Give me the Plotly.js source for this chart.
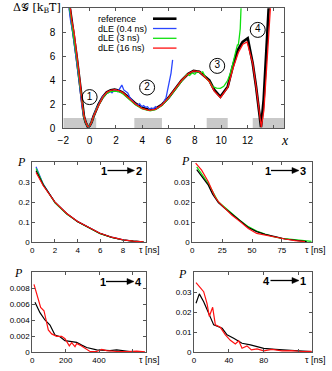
<!DOCTYPE html>
<html>
<head>
<meta charset="utf-8">
<script src="https://cdn.plot.ly/plotly-3.0.1.min.js"></script>
<style>html,body{margin:0;padding:0;background:#fff;}#chart{width:332px;height:371px;}</style>
</head>
<body>
<div id="chart"></div>
<script>
// ---------- DATA: free-energy profiles (top panel) ----------
const refX = [-1.6,-1.4,-1.24,-0.99,-0.78,-0.58,-0.43,-0.3,-0.15,0,0.15,0.3,0.5,0.68,1.0,1.3,1.6,1.9,2.2,2.5,3.0,3.5,4.0,4.5,5.0,5.5,6.0,6.5,7.0,7.5,7.9,8.34,8.7,9.1,9.48,9.94,10.5,10.87,11.25,11.63,12.02,12.4,12.65,12.85,13.03,13.23,13.36,13.49,13.59,13.65];
const refY = [10.8,9,8,6,4,2,1,0.5,0.15,0.2,0.5,1.0,1.6,2.0,2.6,3.0,3.17,3.22,3.15,3.0,2.55,2.05,1.72,1.55,1.62,1.98,2.55,3.25,4.0,4.55,4.78,4.72,4.4,4.0,3.2,2.63,3.47,5.1,6.5,7.2,7.5,5.4,3.5,1.5,0.1,2.4,5.1,7.9,10,10.8];

const dle04X = [-1.65,-1.45,-1.28,-1.02,-0.8,-0.6,-0.45,-0.3,-0.15,0,0.15,0.3,0.5,0.7,1.0,1.2,1.4,1.55,1.7,1.85,2.0,2.15,2.3,2.45,2.6,2.75,2.9,3.05,3.2,3.35,3.5,3.65,3.8,3.95,4.1,4.25,4.4,4.55,4.7,4.85,5.0,5.15,5.3,5.45,5.6,5.7,5.8,5.93,6.05,6.19,6.31];
const dle04Y = [10.8,9,8,6,4,2,1,0.5,0.15,0.2,0.5,1.0,1.6,2.0,2.65,2.85,2.95,3.1,2.95,3.15,3.2,3.05,3.3,3.6,3.2,3.1,2.95,2.6,2.4,2.15,2.05,1.9,2.05,1.8,1.9,1.75,1.8,1.6,1.7,1.6,1.8,1.65,1.75,1.95,2.0,2.36,2.5,3.2,3.6,4.6,5.7];

const dle3X = [-1.62,-1.42,-1.26,-1.0,-0.79,-0.59,-0.44,-0.3,-0.15,0,0.15,0.3,0.5,0.7,1.0,1.3,1.6,1.9,2.2,2.5,3.0,3.5,4.0,4.6,5.0,5.5,6.0,6.5,7.0,7.4,7.6,7.8,8.0,8.2,8.4,8.6,8.85,9.1,9.35,9.65,9.94,10.2,10.5,10.7,10.87,11.0,11.13,11.25,11.3,11.38,11.45,11.51,11.55];
const dle3Y = [10.8,9,8,6,4,2,1,0.5,0.15,0.2,0.5,0.95,1.55,1.95,2.55,2.9,3.05,3.1,3.05,2.9,2.45,1.95,1.62,1.45,1.55,1.9,2.5,3.2,3.95,4.5,4.4,4.62,4.5,4.75,4.6,4.7,4.17,3.9,3.47,3.35,3.33,3.5,4.0,4.6,5.3,5.8,6.5,7.0,6.9,7.6,8.3,10,10.8];

const dle16X = [-1.55,-1.36,-1.18,-0.94,-0.74,-0.56,-0.42,-0.29,-0.14,0,0.15,0.3,0.5,0.7,1.0,1.3,1.6,1.9,2.2,2.5,3.0,3.5,4.0,4.5,5.0,5.5,6.0,6.5,7.0,7.5,7.9,8.34,8.7,9.1,9.48,9.95,10.5,10.9,11.3,11.65,11.97,12.4,12.65,12.87,13.05,13.25,13.45,13.6,13.74,13.8];
const dle16Y = [10.8,9,8,6,4,2,1,0.5,0.15,0.18,0.5,1.0,1.55,1.95,2.6,3.0,3.17,3.22,3.15,3.0,2.5,2.0,1.65,1.5,1.58,1.95,2.55,3.25,4.0,4.55,4.78,4.72,4.35,3.9,3.1,2.55,3.4,5.0,6.3,7.0,7.2,5.4,3.5,1.5,0.1,1.5,4.5,7.5,10,10.8];

// metastable state regions (grey bars) and state labels
const stateLo = [-2, 3.4, 8.9, 12.4];
const stateHi = [0.5, 5.5, 10.5, 14.8];
const stateBarTop = 0.85;
const labelX = [0, 4.37, 9.7, 12.78];
const labelY = [2.6, 3.4, 5.2, 8.2];
const labelText = ['1', '2', '3', '4'];

const topXTicks = [-2, 0, 2, 4, 6, 8, 10, 12, 14];
const topXTickText = ['\u22122', '0', '2', '4', '6', '8', '10', '12', ''];
const topYTicks = [0, 2, 4, 6, 8];

// ---------- DATA: waiting-time distributions ----------
// 1 -> 2
const p12X = [0.33, 0.97, 2.0, 3.03, 4.0, 5.09, 5.97, 7.0, 8.03, 8.9, 9.8];
const p12Ref = [0.357, 0.285, 0.2, 0.143, 0.102, 0.068, 0.043, 0.023, 0.01, 0.004, 0.001];
const p12D04 = [0.377, 0.29, 0.198, 0.142, 0.103, 0.068, 0.044, 0.024, 0.011, 0.004, 0.001];
const p12D3 = [0.368, 0.288, 0.196, 0.14, 0.101, 0.066, 0.042, 0.023, 0.01, 0.004, 0.001];
const p12D16 = [0.348, 0.282, 0.2, 0.143, 0.103, 0.069, 0.044, 0.024, 0.011, 0.004, 0.001];

// 1 -> 3
const p13RefX = [3.7, 13.4, 17, 21.8, 27.4, 33, 40, 46.9, 53.9, 60.9, 69.3, 77.6, 88.8, 95.8];
const p13Ref = [0.0363, 0.0285, 0.024, 0.0197, 0.0168, 0.014, 0.0105, 0.0073, 0.0052, 0.0038, 0.0027, 0.0015, 0.0007, 0.0002];
const p13D3X = [3.7, 13.4, 21.8, 33, 40, 46.9, 53.9, 60.9, 67, 74.9, 81, 88.8, 100];
const p13D3 = [0.0377, 0.0293, 0.0202, 0.0143, 0.0108, 0.0077, 0.0055, 0.004, 0.0028, 0.0018, 0.0014, 0.001, 0.0003];
const p13D16X = [2.8, 7.8, 13.4, 16.2, 19, 21.8, 27.4, 33, 40, 46.9, 53.9, 60.9, 69.3, 77.6, 86, 94.4];
const p13D16 = [0.0395, 0.036, 0.0302, 0.0268, 0.0227, 0.0202, 0.0168, 0.0135, 0.0102, 0.0068, 0.0043, 0.0035, 0.0022, 0.0015, 0.0007, 0.0002];

// 1 -> 4
const p14RefX = [16, 46, 76, 106, 136, 166, 196, 226, 266, 296, 326, 386, 466, 506, 586, 666];
const p14Ref = [0.00625, 0.00495, 0.00404, 0.0034, 0.00216, 0.00195, 0.00145, 0.00133, 0.00125, 0.0009, 0.0006, 0.0003, 0.0002, 0.0003, 0.0001, 0.00005];
const p14D16X = [10, 30, 50, 70, 86, 96, 116, 146, 176, 196, 222, 236, 256, 266, 286, 306, 346, 386, 416, 446, 506, 566, 626, 676];
const p14D16 = [0.0085, 0.0072, 0.0056, 0.0052, 0.0036, 0.0028, 0.0023, 0.002, 0.002, 0.0017, 0.0008, 0.0012, 0.0007, 0.0011, 0.0009, 0.0006, 0.0001, 0.0001, 0.00035, 0.0002, 0.0001, 0.0001, 0.00015, 0.00005];

// 4 -> 1
const p41RefX = [2.3, 6.1, 11.1, 18.7, 22.6, 32.3, 37.9, 45.5, 55.1, 64.7, 72.3, 80, 93.3, 108.6, 120, 135];
const p41Ref = [0.0245, 0.0292, 0.0253, 0.017, 0.0137, 0.012, 0.0087, 0.007, 0.0045, 0.0037, 0.0028, 0.002, 0.0015, 0.0012, 0.0007, 0.0003];
const p41D16X = [2.3, 7.3, 11.1, 14.9, 17.6, 21.4, 24.5, 30.2, 36, 41.7, 47.4, 51.3, 55.1, 60.8, 65.8, 72.3, 80, 89.5, 101, 112.5, 124, 135];
const p41D16 = [0.0348, 0.0325, 0.0303, 0.0245, 0.018, 0.0225, 0.0137, 0.0125, 0.0087, 0.006, 0.0042, 0.0058, 0.002, 0.0032, 0.0012, 0.0017, 0.0007, 0.0015, 0.0007, 0.0008, 0.0004, 0.0005];

// ---------- STYLE ----------
const W = 332, H = 371;
const px = v => v / W;            // pixel -> paper x
const py = v => 1 - v / H;        // pixel -> paper y
const C = {ref: '#000000', d04: '#2a46ff', d3: '#10e010', d16: '#ff1010'};
const FONT = 'Liberation Sans, Arial, sans-serif';

function line(x, y, color, width, xa, ya) {
  return {x: x, y: y, type: 'scatter', mode: 'lines', xaxis: xa, yaxis: ya,
          line: {color: color, width: width}, hoverinfo: 'skip', showlegend: false};
}

const traces = [
  line(refX, refY, C.ref, 2.6, 'x', 'y'),
  line(dle04X, dle04Y, C.d04, 1.3, 'x', 'y'),
  line(dle3X, dle3Y, C.d3, 1.3, 'x', 'y'),
  line(dle16X, dle16Y, C.d16, 1.3, 'x', 'y'),
  {x: labelX, y: labelY, text: labelText, type: 'scatter', mode: 'markers+text', xaxis: 'x', yaxis: 'y',
   marker: {symbol: 'circle-open', size: 15, color: '#000', line: {width: 1, color: '#000'}},
   textposition: 'middle center', textfont: {family: FONT, size: 10, color: '#000'},
   hoverinfo: 'skip', showlegend: false},

  line(p12X, p12D04, C.d04, 1.2, 'x2', 'y2'),
  line(p12X, p12D3, C.d3, 1.2, 'x2', 'y2'),
  line(p12X, p12Ref, C.ref, 1.2, 'x2', 'y2'),
  line(p12X, p12D16, C.d16, 1.2, 'x2', 'y2'),

  line(p13D3X, p13D3, C.d3, 1.2, 'x3', 'y3'),
  line(p13RefX, p13Ref, C.ref, 1.2, 'x3', 'y3'),
  line(p13D16X, p13D16, C.d16, 1.2, 'x3', 'y3'),

  line(p14RefX, p14Ref, C.ref, 1.2, 'x4', 'y4'),
  line(p14D16X, p14D16, C.d16, 1.2, 'x4', 'y4'),

  line(p41RefX, p41Ref, C.ref, 1.2, 'x5', 'y5'),
  line(p41D16X, p41D16, C.d16, 1.2, 'x5', 'y5')
];

function ax(domain, range, tickvals, ticktext, anchor, fs) {
  return {domain: domain, range: range, tickvals: tickvals, ticktext: ticktext, anchor: anchor,
          showline: true, mirror: 'ticks', linecolor: '#555', linewidth: 1,
          ticks: 'inside', ticklen: 3, tickcolor: '#555', tickwidth: 1,
          showgrid: false, zeroline: false, fixedrange: true,
          tickfont: {family: FONT, size: fs, color: '#000'}};
}

const dTop = [px(63.3), px(284.3)];
const dL = [px(32.3), px(145.7)];
const dR2 = [px(192.3), px(311.7)];
const dR4 = [px(194), px(311.7)];
const yTop = [py(128.3), py(8.3)];
const yMid = [py(242), py(162.2)];
const yBot = [py(352.3), py(272.3)];

const layout = {
  width: W, height: H, autosize: false,
  margin: {l: 0, r: 0, t: 0, b: 0},
  paper_bgcolor: '#fff', plot_bgcolor: '#fff',
  showlegend: false,
  font: {family: FONT, color: '#000'},
  xaxis: Object.assign(ax(dTop, [-2, 14.8], topXTicks, topXTickText, 'y', 10), {ticklabelstandoff: 3}),
  yaxis: Object.assign(ax(yTop, [0, 10], topYTicks, topYTicks.map(String), 'x', 10), {ticklabelstandoff: 5}),
  xaxis2: ax(dL, [0, 10], [0, 2, 4, 6, 8, 10], ['0', '2', '4', '6', '8', ''], 'y2', 8),
  yaxis2: ax(yMid, [0, 0.4], [0, 0.1, 0.2, 0.3], ['0', '0.1', '0.2', '0.3'], 'x2', 8),
  xaxis3: ax(dR2, [0, 100], [0, 25, 50, 75, 100], ['0', '25', '50', '75', ''], 'y3', 8),
  yaxis3: ax(yMid, [0, 0.04], [0, 0.01, 0.02, 0.03], ['0', '0.01', '0.02', '0.03'], 'x3', 8),
  xaxis4: ax(dL, [0, 680], [0, 200, 400, 600], ['0', '200', '400', ''], 'y4', 8),
  yaxis4: ax(yBot, [0, 0.01], [0, 0.002, 0.004, 0.006, 0.008], ['0', '0.002', '0.004', '0.006', '0.008'], 'x4', 8),
  xaxis5: ax(dR4, [0, 135], [0, 40, 80, 120], ['0', '40', '80', ''], 'y5', 8),
  yaxis5: ax(yBot, [0, 0.04], [0, 0.01, 0.02, 0.03], ['0', '0.01', '0.02', '0.03'], 'x5', 8),
  shapes: [],
  annotations: []
};

// grey state bars
for (let i = 0; i < stateLo.length; i++) {
  layout.shapes.push({type: 'rect', xref: 'x', yref: 'y', x0: stateLo[i], x1: stateHi[i], y0: 0, y1: stateBarTop,
                      fillcolor: '#c9c9c9', line: {width: 0}, layer: 'below'});
}

// manual gnuplot-style key (text left, sample line right)
const keyNames = ['reference', 'dLE (0.4 ns)', 'dLE (3 ns)', 'dLE (16 ns)'];
const keyCols = [C.ref, C.d04, C.d3, C.d16];
const keyW = [2.6, 1.3, 1.3, 1.3];
const keyRowY = [18.7, 28.5, 38.3, 48.1];
keyNames.forEach((n, i) => {
  layout.annotations.push({xref: 'paper', yref: 'paper', x: px(96), y: py(keyRowY[i]), xanchor: 'left', yanchor: 'middle',
    text: n, showarrow: false, font: {family: FONT, size: 9, color: '#000'}});
  layout.shapes.push({type: 'line', xref: 'paper', yref: 'paper', x0: px(153), x1: px(176.5), y0: py(keyRowY[i]), y1: py(keyRowY[i]),
    line: {color: keyCols[i], width: keyW[i]}});
});

// axis labels
function ann(x, y, text, opts) {
  layout.annotations.push(Object.assign({xref: 'paper', yref: 'paper', x: px(x), y: py(y), text: text, showarrow: false,
    xanchor: 'center', yanchor: 'middle', font: {family: FONT, size: 10, color: '#000'}}, opts || {}));
}
ann(37, 8, '\u0394\uD835\uDCA2 [k<sub>B</sub>T]', {font: {family: 'DejaVu Serif, Liberation Serif, serif', size: 11, color: '#000'}});
ann(285, 140.5, '<i>x</i>', {font: {family: 'Liberation Serif, serif', size: 14, color: '#000'}});

const serifP = {family: 'Liberation Serif, serif', size: 12, color: '#000'};
ann(21.5, 161.5, '<i>P</i>', {font: serifP});
ann(185, 160.5, '<i>P</i>', {font: serifP});
ann(18.5, 272.5, '<i>P</i>', {font: serifP});
ann(182, 273.5, '<i>P</i>', {font: serifP});

const tauFont = {family: FONT, size: 9, color: '#000'};
ann(137, 250, '\u03C4 [ns]', {xanchor: 'left', font: tauFont});
ann(303, 250, '\u03C4 [ns]', {xanchor: 'left', font: tauFont});
ann(137, 360, '\u03C4 [ns]', {xanchor: 'left', font: tauFont});
ann(303, 360, '\u03C4 [ns]', {xanchor: 'left', font: tauFont});

// transition labels  a ──► b  (arrow = line shape + filled triangle path)
const bold = {family: FONT, size: 11, color: '#000', weight: 'bold'};
function trans(a, b, xa, xb, y, x0, x1) {
  ann(xa, y, '<b>' + a + '</b>', {font: bold});
  ann(xb, y, '<b>' + b + '</b>', {font: bold});
  const headL = 7, headH = 3;
  layout.shapes.push({type: 'line', xref: 'paper', yref: 'paper', x0: px(x0), x1: px(x1 - headL + 1), y0: py(y), y1: py(y),
    line: {color: '#000', width: 1.3}});
  layout.shapes.push({type: 'path', xref: 'paper', yref: 'paper',
    path: 'M ' + px(x1 - headL) + ' ' + py(y - headH) + ' L ' + px(x1) + ' ' + py(y) + ' L ' + px(x1 - headL) + ' ' + py(y + headH) + ' Z',
    fillcolor: '#000', line: {color: '#000', width: 0.5}});
}
trans('1', '2', 104, 138.5, 170.5, 107.5, 134.5);
trans('1', '3', 267.5, 302.5, 170.5, 271, 299);
trans('1', '4', 102.5, 138, 281.5, 106, 134);
trans('4', '1', 266.5, 302.5, 280.5, 270.5, 299);

Plotly.newPlot('chart', traces, layout, {staticPlot: true, displayModeBar: false});
</script>
</body>
</html>
